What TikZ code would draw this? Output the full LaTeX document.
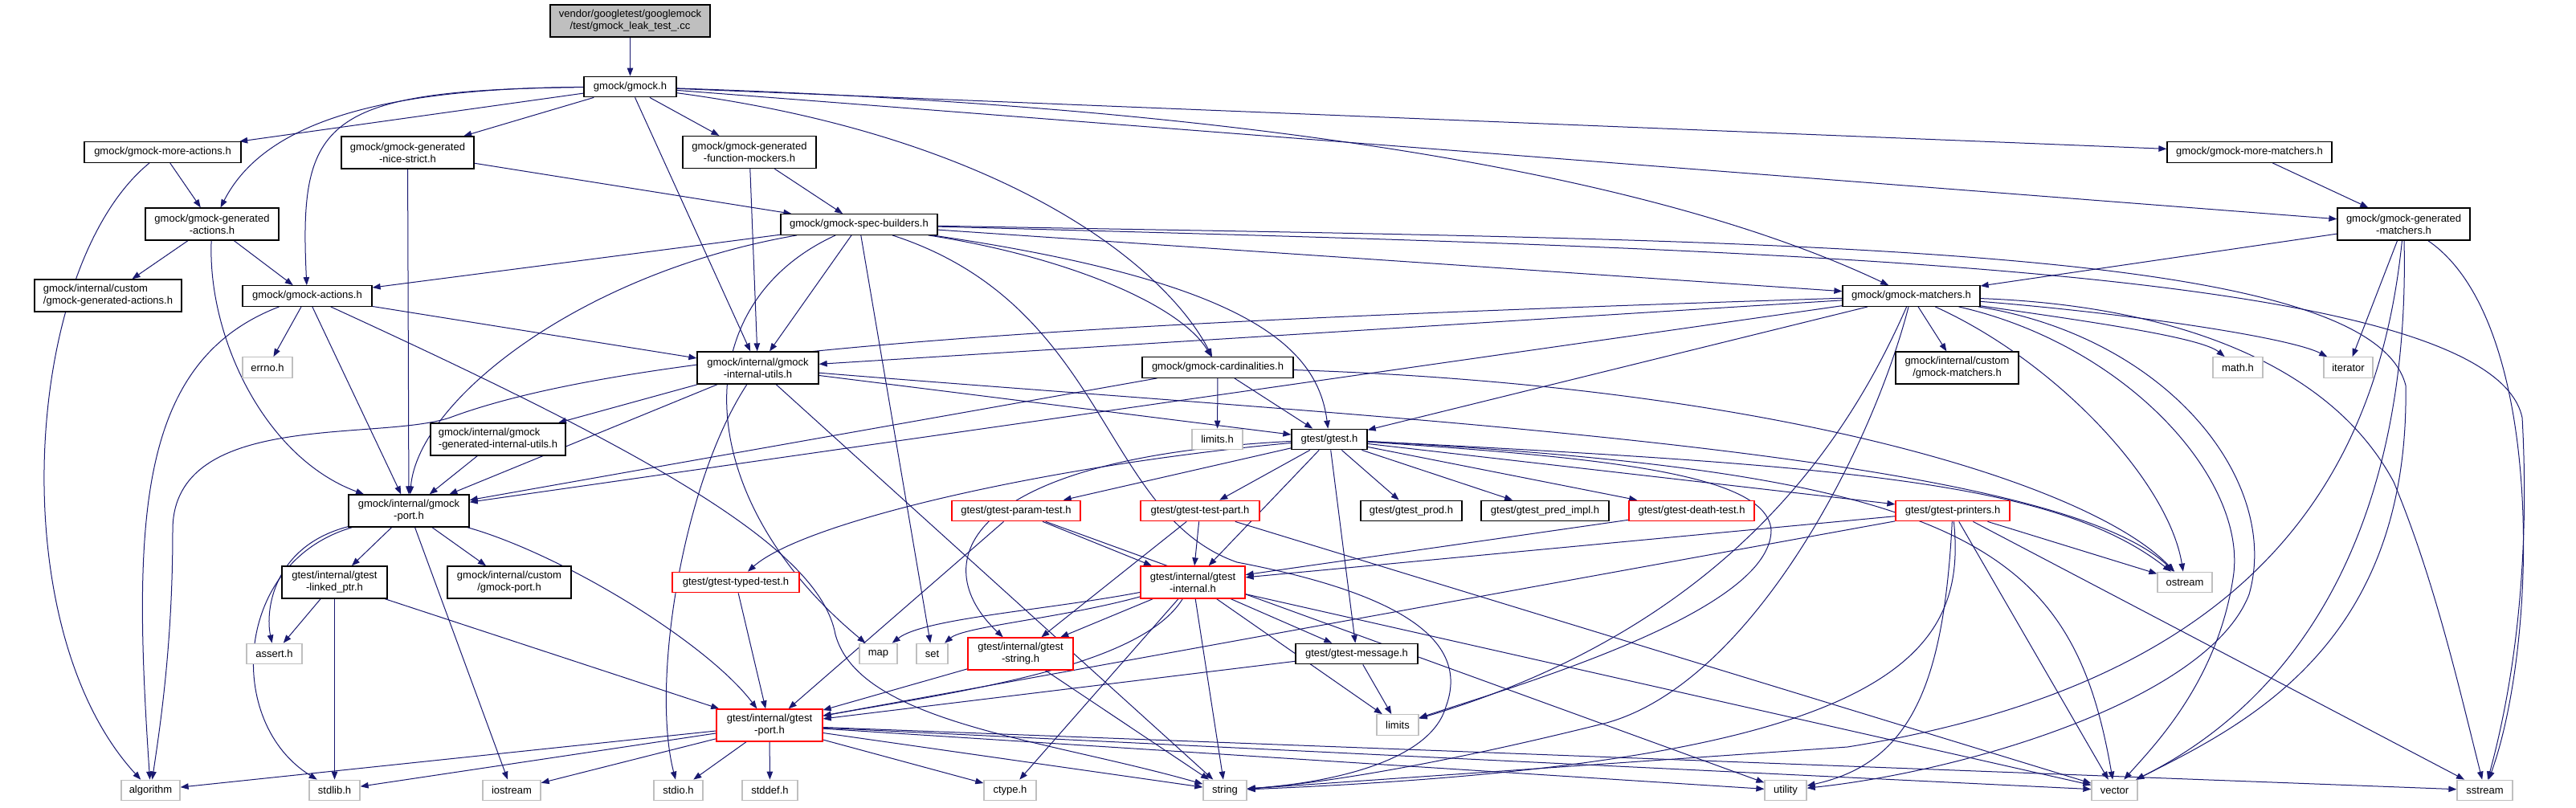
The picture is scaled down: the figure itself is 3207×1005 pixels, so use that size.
\documentclass[tikz,border=0pt]{standalone}
\usepackage{fontspec}
\setmainfont{Liberation Sans}
\usetikzlibrary{arrows.meta}
\definecolor{edgec}{RGB}{25,25,112}
\definecolor{graybd}{RGB}{191,191,191}
\definecolor{topfill}{RGB}{191,191,191}
\newcommand\nodefont{\fontsize{13}{15}\selectfont}
\pgfdeclarelayer{edgelayer}
\pgfsetlayers{edgelayer,main}
\tikzset{
  nb/.style={inner sep=0pt, font=\nodefont, align=center, minimum height=25.5pt, fill=white, line width=1.3pt},
  bb/.style={nb, draw=black},
  gb/.style={nb, draw=graybd},
  rb/.style={nb, draw=red},
  tall/.style={minimum height=40pt},
  e/.style={draw=edgec, line width=1pt, -{Triangle[length=10pt,width=7.5pt]}}
}
\begin{document}
\begin{tikzpicture}[x=1pt,y=-1pt]
\useasboundingbox (0,0) rectangle (3207,1005);
% nodes
\node[bb,tall,minimum width=199pt,fill=topfill] (top) at (784.5,26) {vendor/googletest/googlemock\\/test/gmock\_leak\_test\_.cc};
\node[bb,minimum width=115pt] (gmockh) at (784.5,108) {gmock/gmock.h};
\node[bb,minimum width=195pt] (moreact) at (202.5,189.5) {gmock/gmock-more-actions.h};
\node[bb,tall,minimum width=165pt] (nicestrict) at (507.5,190) {gmock/gmock-generated\\-nice-strict.h};
\node[bb,tall,minimum width=166pt] (funcmock) at (933,189.5) {gmock/gmock-generated\\-function-mockers.h};
\node[bb,minimum width=205pt] (morematch) at (2800.5,189.5) {gmock/gmock-more-matchers.h};
\node[bb,tall,minimum width=166pt] (genact) at (264,279) {gmock/gmock-generated\\-actions.h};
\node[bb,minimum width=195pt] (specb) at (1069.5,279.5) {gmock/gmock-spec-builders.h};
\node[bb,tall,minimum width=165pt] (genmatch) at (2992.5,279) {gmock/gmock-generated\\-matchers.h};
\node[bb,tall,minimum width=183pt,align=left] (customgenact) at (134.5,368) {gmock/internal/custom\\/gmock-generated-actions.h};
\node[bb,minimum width=161pt] (actions) at (382.5,368.5) {gmock/gmock-actions.h};
\node[gb,minimum width=62pt] (errno) at (333,457.5) {errno.h};
\node[bb,tall,minimum width=151pt] (intutils) at (943.5,458) {gmock/internal/gmock\\-internal-utils.h};
\node[bb,minimum width=188pt] (card) at (1516,457.5) {gmock/gmock-cardinalities.h};
\node[bb,minimum width=171pt] (matchers) at (2379.5,368.5) {gmock/gmock-matchers.h};
\node[bb,tall,minimum width=153pt] (custommatch) at (2436.5,458) {gmock/internal/custom\\/gmock-matchers.h};
\node[gb,minimum width=62pt] (math) at (2786,457.5) {math.h};
\node[gb,minimum width=61pt] (iterator) at (2923.5,457.5) {iterator};
\node[bb,tall,minimum width=168pt,align=left] (genintutils) at (620,547) {gmock/internal/gmock\\-generated-internal-utils.h};
\node[gb,minimum width=63pt] (limitsh) at (1515.5,547) {limits.h};
\node[bb,minimum width=94pt] (gtesth) at (1655,547) {gtest/gtest.h};
\node[bb,tall,minimum width=150pt] (gmockport) at (509,636) {gmock/internal/gmock\\-port.h};
\node[rb,minimum width=160pt] (paramtest) at (1265,636) {gtest/gtest-param-test.h};
\node[rb,minimum width=148pt] (testpart) at (1494,636) {gtest/gtest-test-part.h};
\node[bb,minimum width=126pt] (prod) at (1757,636) {gtest/gtest\_prod.h};
\node[bb,minimum width=159pt] (predimpl) at (1923.5,636) {gtest/gtest\_pred\_impl.h};
\node[rb,minimum width=156pt] (deathtest) at (2106,636) {gtest/gtest-death-test.h};
\node[rb,minimum width=142pt] (printers) at (2431,636) {gtest/gtest-printers.h};
\node[bb,tall,minimum width=131pt] (linkedptr) at (416.5,725) {gtest/internal/gtest\\-linked\_ptr.h};
\node[bb,tall,minimum width=154pt] (customport) at (634,725) {gmock/internal/custom\\/gmock-port.h};
\node[rb,minimum width=158pt] (typedtest) at (916,725) {gtest/gtest-typed-test.h};
\node[rb,tall,minimum width=130pt] (gtestinternal) at (1485,725) {gtest/internal/gtest\\-internal.h};
\node[gb,minimum width=68pt] (ostream) at (2720,725) {ostream};
\node[gb,minimum width=69pt] (asserth) at (341.5,814) {assert.h};
\node[gb,minimum width=47pt] (map) at (1093.5,814) {map};
\node[gb,minimum width=39pt] (set) at (1160.5,814) {set};
\node[rb,tall,minimum width=131pt] (gteststring) at (1270.5,814) {gtest/internal/gtest\\-string.h};
\node[bb,minimum width=152pt] (message) at (1689,814) {gtest/gtest-message.h};
\node[gb,minimum width=52pt] (limits) at (1740,902.5) {limits};
\node[rb,tall,minimum width=132pt] (gtestport) at (958,903) {gtest/internal/gtest\\-port.h};
\node[gb,minimum width=73pt] (algorithm) at (187.5,984) {algorithm};
\node[gb,minimum width=63pt] (stdlib) at (416.5,984) {stdlib.h};
\node[gb,minimum width=72pt] (iostream) at (637,984) {iostream};
\node[gb,minimum width=61pt] (stdio) at (844.5,984) {stdio.h};
\node[gb,minimum width=69pt] (stddef) at (958.5,984) {stddef.h};
\node[gb,minimum width=65pt] (ctype) at (1257.5,984) {ctype.h};
\node[gb,minimum width=54pt] (string) at (1525,984) {string};
\node[gb,minimum width=52pt] (utility) at (2223,984) {utility};
\node[gb,minimum width=57pt] (vector) at (2632.5,984) {vector};
\node[gb,minimum width=69pt] (sstream) at (3093.5,984) {sstream};
% edges
\begin{pgfonlayer}{edgelayer}
\fill[white] (0,0) rectangle (3207,1005);
\draw[e] (top) -- (gmockh);
\draw[e] (gmockh) -- (moreact);
\draw[e] (gmockh) .. controls (480,110) and (330,150) .. (genact);
\draw[e] (gmockh) .. controls (400,112) and (372,150) .. (actions);
\draw[e] (gmockh) -- (nicestrict);
\draw[e] (gmockh) -- (funcmock);
\draw[e] (gmockh) -- (intutils);
\draw[e] (gmockh) .. controls (1250,170) and (1450,330) .. (card);
\draw[e] (gmockh) .. controls (1750,140) and (2150,260) .. (matchers);
\draw[e] (gmockh) -- (morematch);
\draw[e] (gmockh) -- (genmatch);
\draw[e] (moreact) .. controls (30,330) and (0,780) .. (algorithm);
\draw[e] (moreact) -- (genact);
\draw[e] (genact) -- (customgenact);
\draw[e] (genact) -- (actions);
\draw[e] (genact) .. controls (258,420) and (330,570) .. (gmockport);
\draw[e] (nicestrict) -- (specb);
\draw[e] (nicestrict) -- (gmockport);
\draw[e] (funcmock) -- (specb);
\draw[e] (funcmock) -- (intutils);
\draw[e] (specb) -- (actions);
\draw[e] (specb) -- (intutils);
\draw[e] (specb) .. controls (1330,320) and (1470,380) .. (card);
\draw[e] (specb) -- (matchers);
\draw[e] (specb) .. controls (1550,350) and (1640,430) .. (gtesth);
\draw[e] (specb) .. controls (720,340) and (520,500) .. (gmockport);
\draw[e] (specb) -- (set);
\draw[e] (specb) .. controls (850,380) and (860,620) .. (map);
\draw[e] (specb) .. controls (1380,380) and (1370,640) .. (1540,700) .. controls (1750,740) and (1830,800) .. (1800,880) .. controls (1780,950) and (1650,975) .. (string);
\draw[e] (specb) .. controls (2200,310) and (3100,330) .. (3140,520) .. controls (3150,700) and (3130,850) .. (sstream);
\draw[e] (specb) .. controls (2200,300) and (2950,300) .. (2995,480) .. controls (3000,800) and (2800,900) .. (vector);
\draw[e] (intutils) -- (genintutils);
\draw[e] (intutils) -- (gmockport);
\draw[e] (intutils) -- (gtesth);
\draw[e] (intutils) .. controls (850,600) and (810,850) .. (stdio);
\draw[e] (intutils) .. controls (1700,520) and (2550,560) .. (ostream);
\draw[e] (intutils) -- (string);
\draw[e] (actions) -- (errno);
\draw[e] (actions) -- (intutils);
\draw[e] (actions) .. controls (170,450) and (165,650) .. (algorithm);
\draw[e] (actions) -- (gmockport);
\draw[e] (actions) .. controls (800,560) and (1020,680) .. (1040,790) .. controls (1070,900) and (1300,920) .. (string);
\draw[e] (matchers) -- (intutils);
\draw[e] (matchers) -- (gmockport);
\draw[e] (matchers) -- (gtesth);
\draw[e] (matchers) -- (custommatch);
\draw[e] (matchers) .. controls (2600,400) and (2740,420) .. (math);
\draw[e] (matchers) .. controls (2650,390) and (2850,420) .. (iterator);
\draw[e] (matchers) .. controls (1400,400) and (800,430) .. (560,520) .. controls (470,550) and (215,510) .. (215,660) .. controls (215,800) and (200,900) .. (algorithm);
\draw[e] (matchers) .. controls (2300,550) and (2150,780) .. (limits);
\draw[e] (matchers) .. controls (2560,450) and (2700,600) .. (ostream);
\draw[e] (matchers) .. controls (2700,380) and (2900,450) .. (2980,600) .. controls (3030,720) and (3060,850) .. (sstream);
\draw[e] (matchers) .. controls (2330,560) and (2180,850) .. (2000,900) .. controls (1800,950) and (1650,975) .. (string);
\draw[e] (matchers) .. controls (2700,420) and (2840,600) .. (2800,740) .. controls (2750,870) and (2450,960) .. (utility);
\draw[e] (matchers) .. controls (2650,430) and (2800,600) .. (2780,720) .. controls (2760,850) and (2680,930) .. (vector);
\draw[e] (morematch) -- (genmatch);
\draw[e] (genmatch) -- (matchers);
\draw[e] (genmatch) -- (iterator);
\draw[e] (genmatch) .. controls (3170,400) and (3160,800) .. (sstream);
\draw[e] (genmatch) .. controls (2960,600) and (2800,850) .. (2300,930) -- (string);
\draw[e] (genmatch) .. controls (3000,600) and (2900,850) .. (vector);
\draw[e] (card) -- (gmockport);
\draw[e] (card) -- (limitsh);
\draw[e] (card) -- (gtesth);
\draw[e] (card) .. controls (2200,480) and (2600,600) .. (ostream);
\draw[e] (genintutils) -- (gmockport);
\draw[e] (gmockport) -- (linkedptr);
\draw[e] (gmockport) -- (customport);
\draw[e] (gmockport) .. controls (340,680) and (330,760) .. (asserth);
\draw[e] (gmockport) .. controls (290,700) and (280,900) .. (stdlib);
\draw[e] (gmockport) -- (iostream);
\draw[e] (gmockport) .. controls (700,690) and (880,800) .. (gtestport);
\draw[e] (linkedptr) -- (asserth);
\draw[e] (linkedptr) -- (stdlib);
\draw[e] (linkedptr) -- (gtestport);
\draw[e] (gtesth) .. controls (1200,570) and (1150,700) .. (gteststring);
\draw[e] (gtesth) -- (paramtest);
\draw[e] (gtesth) -- (testpart);
\draw[e] (gtesth) -- (gtestinternal);
\draw[e] (gtesth) .. controls (1300,580) and (1000,650) .. (typedtest);
\draw[e] (gtesth) -- (message);
\draw[e] (gtesth) -- (prod);
\draw[e] (gtesth) -- (predimpl);
\draw[e] (gtesth) -- (deathtest);
\draw[e] (gtesth) -- (printers);
\draw[e] (gtesth) .. controls (2300,580) and (2560,600) .. (ostream);
\draw[e] (gtesth) .. controls (2450,590) and (2580,680) .. (vector);
\draw[e] (gtesth) .. controls (2000,570) and (2200,590) .. (2205,660) .. controls (2205,760) and (1900,850) .. (limits);
\draw[e] (paramtest) -- (gtestinternal);
\draw[e] (paramtest) -- (gtestport);
\draw[e] (paramtest) -- (utility);
\draw[e] (testpart) -- (gtestinternal);
\draw[e] (testpart) -- (gteststring);
\draw[e] (testpart) -- (vector);
\draw[e] (typedtest) -- (gtestport);
\draw[e] (deathtest) -- (gtestinternal);
\draw[e] (printers) -- (gtestinternal);
\draw[e] (printers) -- (gtestport);
\draw[e] (printers) .. controls (2420,850) and (2380,950) .. (utility);
\draw[e] (printers) .. controls (2450,820) and (2350,950) .. (string);
\draw[e] (printers) -- (vector);
\draw[e] (printers) -- (sstream);
\draw[e] (printers) -- (ostream);
\draw[e] (gtestinternal) .. controls (1300,760) and (1150,770) .. (map);
\draw[e] (gtestinternal) .. controls (1320,770) and (1200,780) .. (set);
\draw[e] (gtestinternal) -- (gteststring);
\draw[e] (gtestinternal) .. controls (1420,830) and (1200,860) .. (gtestport);
\draw[e] (gtestinternal) -- (ctype);
\draw[e] (gtestinternal) -- (string);
\draw[e] (gtestinternal) -- (limits);
\draw[e] (gtestinternal) -- (message);
\draw[e] (gtestinternal) -- (vector);
\draw[e] (gteststring) -- (string);
\draw[e] (gteststring) -- (gtestport);
\draw[e] (message) -- (limits);
\draw[e] (message) -- (gtestport);
\draw[e] (gtestport) -- (algorithm);
\draw[e] (gtestport) -- (stdlib);
\draw[e] (gtestport) -- (iostream);
\draw[e] (gtestport) -- (stdio);
\draw[e] (gtestport) -- (stddef);
\draw[e] (gtestport) -- (ctype);
\draw[e] (gtestport) -- (string);
\draw[e] (gtestport) -- (utility);
\draw[e] (gtestport) -- (vector);
\draw[e] (gtestport) -- (sstream);
\end{pgfonlayer}
\end{tikzpicture}
\end{document}
